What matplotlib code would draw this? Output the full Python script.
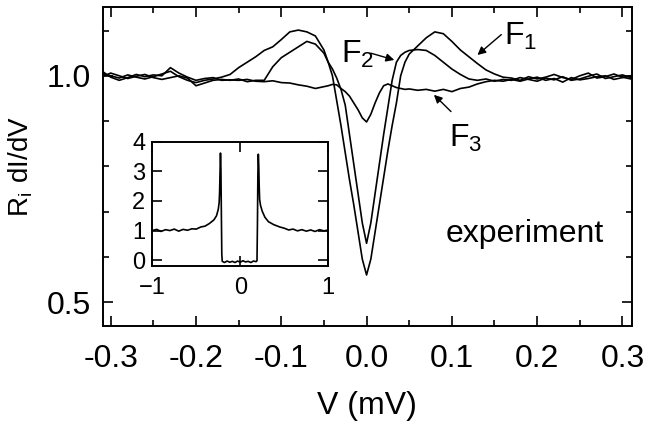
import matplotlib
matplotlib.use('Agg')
import matplotlib.pyplot as plt
from matplotlib.ticker import MultipleLocator

plt.rcParams['font.family'] = ['Liberation Sans', 'DejaVu Sans']

# bias voltage (mV) for the three junction traces
V_MAIN = [-0.31, -0.30, -0.29, -0.28, -0.27, -0.26, -0.25, -0.24, -0.23, -0.22,
          -0.21, -0.20, -0.19, -0.18, -0.17, -0.16, -0.15, -0.14, -0.13, -0.12,
          -0.11, -0.10, -0.09, -0.08, -0.07, -0.06, -0.05, -0.045, -0.04, -0.035,
          -0.03, -0.025, -0.02, -0.015, -0.01, -0.005, 0.0, 0.005, 0.01, 0.015,
          0.02, 0.025, 0.03, 0.035, 0.04, 0.045, 0.05, 0.06, 0.07, 0.08,
          0.09, 0.10, 0.11, 0.12, 0.13, 0.14, 0.15, 0.16, 0.17, 0.18,
          0.19, 0.20, 0.21, 0.22, 0.23, 0.24, 0.25, 0.26, 0.27, 0.28,
          0.29, 0.30, 0.31]

F1 = [1.005, 1.000, 0.995, 1.002, 0.997, 0.993, 0.998, 1.004, 1.010, 0.998,
      0.990, 0.985, 0.990, 0.993, 0.997, 1.003, 1.018, 1.030, 1.042, 1.056,
      1.064, 1.080, 1.097, 1.101, 1.097, 1.088, 1.057, 1.030, 1.000, 0.945,
      0.890, 0.830, 0.770, 0.715, 0.655, 0.595, 0.560, 0.595, 0.655, 0.715,
      0.775, 0.835, 0.890, 0.940, 1.000, 1.030, 1.048, 1.066, 1.084, 1.097,
      1.093, 1.076, 1.057, 1.042, 1.027, 1.013, 1.004, 0.997, 0.995, 0.990,
      0.998, 0.993, 0.997, 1.003, 0.996, 0.992, 1.000, 1.006, 0.995, 0.998,
      1.004, 0.997, 0.993]

F2 = [0.998, 1.006, 1.000, 0.994, 0.999, 1.003, 0.996, 0.992, 0.996, 1.000,
      0.995, 0.978, 0.984, 0.990, 0.992, 0.990, 0.993, 0.987, 0.990, 0.990,
      1.020, 1.040, 1.052, 1.064, 1.076, 1.070, 1.050, 1.030, 1.015, 0.995,
      0.970, 0.935, 0.870, 0.805, 0.740, 0.675, 0.630, 0.675, 0.740, 0.805,
      0.870, 0.930, 0.990, 1.030, 1.045, 1.052, 1.056, 1.058, 1.056, 1.045,
      1.030, 1.015, 1.003, 0.993, 0.990, 0.993, 0.988, 0.992, 0.990, 0.996,
      0.992, 0.988, 0.995, 0.991, 0.998, 0.990, 0.993, 0.999, 1.004, 0.994,
      0.998, 1.002, 0.996]

F3 = [1.010, 0.997, 0.990, 0.996, 1.003, 0.998, 1.002, 1.000, 1.018, 1.006,
      0.997, 0.990, 0.994, 0.996, 0.990, 0.991, 0.990, 0.992, 0.988, 0.987,
      0.989, 0.985, 0.984, 0.980, 0.977, 0.972, 0.976, 0.978, 0.981, 0.980,
      0.972, 0.965, 0.955, 0.940, 0.925, 0.907, 0.898, 0.915, 0.940, 0.962,
      0.978, 0.982, 0.978, 0.974, 0.972, 0.970, 0.971, 0.968, 0.970, 0.966,
      0.970, 0.965, 0.972, 0.975, 0.982, 0.987, 0.990, 0.988, 0.992, 0.988,
      0.993, 0.997, 0.990, 0.994, 0.986, 0.996, 0.991, 0.994, 0.998, 1.000,
      0.992, 0.996, 1.000]

# inset: wide-range spectrum
V_INSET = [-1.00, -0.95, -0.90, -0.85, -0.80, -0.75, -0.70, -0.65, -0.60, -0.55,
           -0.50, -0.45, -0.40, -0.35, -0.30, -0.27, -0.25, -0.24, -0.235, -0.23,
           -0.225, -0.22, -0.215, -0.21, -0.205, -0.18, -0.15, -0.12, -0.09, -0.06,
           -0.03, 0.00, 0.03, 0.06, 0.09, 0.12, 0.15, 0.18, 0.19, 0.195,
           0.20, 0.205, 0.21, 0.215, 0.22, 0.23, 0.25, 0.28, 0.32, 0.38,
           0.45, 0.50, 0.55, 0.60, 0.65, 0.70, 0.75, 0.80, 0.85, 0.90,
           0.95, 1.00]

G_INSET = [1.00, 1.04, 0.97, 1.03, 1.00, 1.05, 0.98, 1.04, 1.01, 1.06,
           1.05, 1.12, 1.15, 1.24, 1.36, 1.50, 1.72, 1.95, 2.30, 3.00,
           3.62, 3.10, 1.60, 0.20, -0.04, -0.08, -0.03, -0.07, -0.04, -0.08,
           -0.03, -0.07, -0.02, -0.06, -0.04, -0.08, -0.03, -0.05, -0.02, 1.20,
           2.90, 3.58, 3.20, 2.50, 2.05, 1.85, 1.65, 1.45, 1.30, 1.20,
           1.12, 1.08, 1.02, 1.05, 0.99, 1.03, 0.98, 1.02, 0.97, 1.03,
           0.99, 1.02]

MAIN_XTICKS = [-0.3, -0.2, -0.1, 0.0, 0.1, 0.2, 0.3]
MAIN_YTICKS = [0.5, 1.0]


def style_axes(ax, major_len, minor_len, size):
    for spine in ax.spines.values():
        spine.set_linewidth(1.4)
    ax.tick_params(which='both', direction='in', top=True, right=True,
                   width=1.2, labelsize=size)
    ax.tick_params(which='major', length=major_len)
    ax.tick_params(which='minor', length=minor_len)


def draw_main(ax):
    for g in (F1, F2, F3):
        ax.plot(V_MAIN, g, color='black', lw=1.2)

    ax.set_xlim(-0.309, 0.311)
    ax.set_ylim(0.448, 1.152)
    ax.set_xticks(MAIN_XTICKS)
    ax.set_xticklabels([f'{t:.1f}' for t in MAIN_XTICKS])
    ax.set_yticks(MAIN_YTICKS)
    ax.set_yticklabels([f'{t:.1f}' for t in MAIN_YTICKS])
    ax.xaxis.set_minor_locator(MultipleLocator(0.05))
    ax.yaxis.set_minor_locator(MultipleLocator(0.1))
    style_axes(ax, 7, 4, 23)
    ax.tick_params(axis='x', which='both', pad=13)
    ax.tick_params(axis='y', which='both', pad=9)

    ax.set_xlabel('V (mV)', fontsize=23)
    ax.xaxis.set_label_coords(0.5, -0.205)
    ax.set_ylabel(r'$\mathregular{R_i\ dI/dV}$', fontsize=20, va='center')
    ax.yaxis.set_label_coords(-0.155, 0.5)

    ax.text(0.186, 0.633, 'experiment', fontsize=23, ha='center', va='baseline')

    arrow = dict(arrowstyle='-|>', color='black', lw=1.0, mutation_scale=12,
                 shrinkA=0, shrinkB=0)
    ax.text(0.161, 1.068, r'$\mathregular{F_1}$', fontsize=23, ha='left', va='baseline')
    ax.annotate('', xy=(0.130, 1.046), xytext=(0.158, 1.091), arrowprops=arrow)
    ax.text(-0.030, 1.029, r'$\mathregular{F_2}$', fontsize=23, ha='left', va='baseline')
    ax.annotate('', xy=(0.0325, 1.035), xytext=(0.005, 1.050), arrowprops=arrow)
    ax.text(0.097, 0.843, r'$\mathregular{F_3}$', fontsize=23, ha='left', va='baseline')
    ax.annotate('', xy=(0.079, 0.958), xytext=(0.099, 0.921), arrowprops=arrow)


def draw_inset(ax):
    ax.plot(V_INSET, G_INSET, color='black', lw=1.2)
    ax.set_xlim(-1, 1)
    ax.set_ylim(-0.2, 4.0)
    ax.set_xticks([-1, 0, 1])
    ax.set_yticks([0, 1, 2, 3, 4])
    style_axes(ax, 7, 4, 17)
    ax.tick_params(axis='x', pad=8)
    ax.tick_params(axis='y', pad=5)


def main():
    fig = plt.figure(figsize=(6.48, 4.21), dpi=100)
    ax = fig.add_axes([0.159, 0.2264, 0.816, 0.757])
    draw_main(ax)
    inset = fig.add_axes([0.235, 0.368, 0.2716, 0.2952])
    draw_inset(inset)
    fig.savefig('out.png', dpi=100)


if __name__ == '__main__':
    main()
